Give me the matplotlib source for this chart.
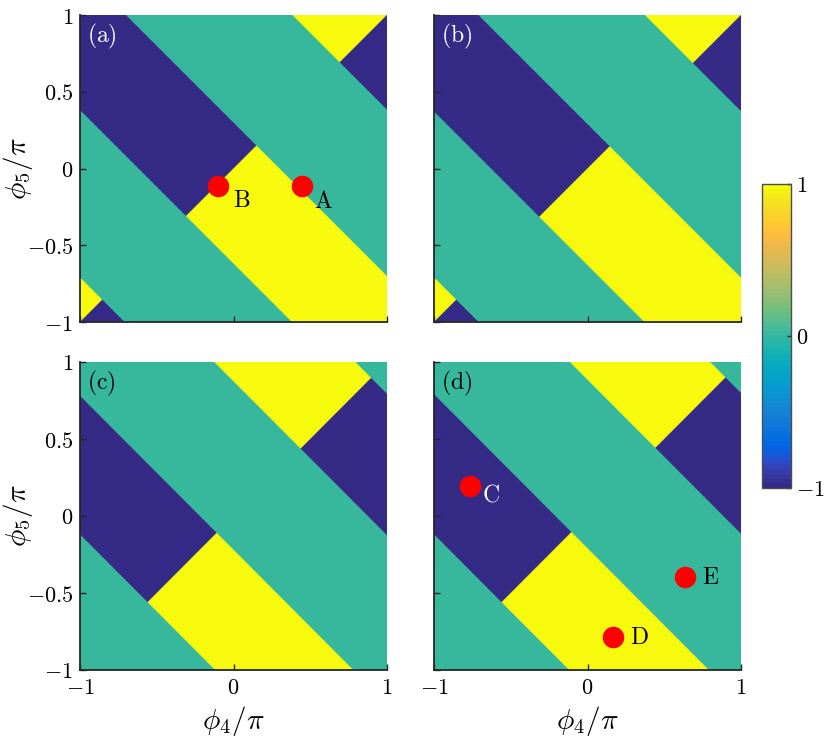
import numpy as np
import matplotlib
matplotlib.use("Agg")
import matplotlib.pyplot as plt
from matplotlib.colors import ListedColormap

plt.rcParams['mathtext.fontset'] = 'cm'
plt.rcParams['font.family'] = ['DejaVu Serif']

# ---------------- data ----------------
# Regions are bands along s = phi4/pi + phi5/pi; inside each band the value
# depends on which side of the diagonal phi5 = phi4 a point lies.
s_edges_a = [-2.0, -1.71, -0.62, 0.30, 1.385, 2.0]
upper_a = [1, 0, -1, 0, 1]      # phi5 > phi4
lower_a = [-1, 0, 1, 0, -1]     # phi5 < phi4

s_edges_b = [-2.0, -1.71, -0.63, 0.29, 1.375, 2.0]
upper_b = [1, 0, -1, 0, 1]
lower_b = [-1, 0, 1, 0, -1]

s_edges_c = [-2.0, -1.12, -0.22, 0.875, 1.795, 2.0]
upper_c = [0, -1, 0, 1, 0]
lower_c = [0, 1, 0, -1, 0]

s_edges_d = [-2.0, -1.12, -0.21, 0.885, 1.80, 2.0]
upper_d = [0, -1, 0, 1, 0]
lower_d = [0, 1, 0, -1, 0]

panel_labels = ['(a)', '(b)', '(c)', '(d)']

points_a_names = ['A', 'B']
points_a_x = [0.444, -0.099]
points_a_y = [-0.112, -0.112]

points_d_names = ['C', 'D', 'E']
points_d_x = [-0.767, 0.169, 0.637]
points_d_y = [0.196, -0.783, -0.398]

y_ticks = [-1, -0.5, 0, 0.5, 1]
x_ticks = [-1, 0, 1]
cbar_ticks = [-1, 0, 1]

# MATLAB parula (64 entries)
parula_data = [
    [0.2081, 0.1663, 0.5292], [0.2116, 0.1898, 0.5777], [0.2123, 0.2138, 0.6270], [0.2081, 0.2386, 0.6771],
    [0.1959, 0.2645, 0.7279], [0.1707, 0.2919, 0.7792], [0.1253, 0.3242, 0.8303], [0.0591, 0.3598, 0.8683],
    [0.0117, 0.3875, 0.8820], [0.0060, 0.4086, 0.8828], [0.0165, 0.4266, 0.8786], [0.0329, 0.4430, 0.8720],
    [0.0498, 0.4586, 0.8641], [0.0629, 0.4737, 0.8554], [0.0723, 0.4887, 0.8467], [0.0779, 0.5040, 0.8384],
    [0.0793, 0.5200, 0.8312], [0.0749, 0.5375, 0.8263], [0.0641, 0.5570, 0.8240], [0.0488, 0.5772, 0.8228],
    [0.0343, 0.5966, 0.8199], [0.0265, 0.6137, 0.8135], [0.0239, 0.6287, 0.8038], [0.0231, 0.6418, 0.7913],
    [0.0228, 0.6535, 0.7768], [0.0267, 0.6642, 0.7607], [0.0384, 0.6743, 0.7436], [0.0590, 0.6838, 0.7254],
    [0.0843, 0.6928, 0.7062], [0.1133, 0.7015, 0.6859], [0.1453, 0.7098, 0.6646], [0.1801, 0.7177, 0.6424],
    [0.2178, 0.7250, 0.6193], [0.2586, 0.7317, 0.5954], [0.3022, 0.7376, 0.5712], [0.3482, 0.7424, 0.5473],
    [0.3953, 0.7459, 0.5244], [0.4420, 0.7481, 0.5033], [0.4871, 0.7491, 0.4840], [0.5300, 0.7491, 0.4661],
    [0.5709, 0.7485, 0.4494], [0.6099, 0.7473, 0.4337], [0.6473, 0.7456, 0.4188], [0.6834, 0.7435, 0.4044],
    [0.7184, 0.7411, 0.3905], [0.7525, 0.7384, 0.3768], [0.7858, 0.7356, 0.3633], [0.8185, 0.7327, 0.3498],
    [0.8507, 0.7299, 0.3360], [0.8824, 0.7274, 0.3217], [0.9139, 0.7258, 0.3063], [0.9450, 0.7261, 0.2886],
    [0.9739, 0.7314, 0.2666], [0.9938, 0.7455, 0.2403], [0.9990, 0.7653, 0.2164], [0.9955, 0.7861, 0.1967],
    [0.9880, 0.8066, 0.1794], [0.9789, 0.8271, 0.1633], [0.9697, 0.8481, 0.1475], [0.9626, 0.8705, 0.1309],
    [0.9589, 0.8949, 0.1132], [0.9598, 0.9218, 0.0948], [0.9661, 0.9514, 0.0755], [0.9763, 0.9831, 0.0538]]
parula = ListedColormap(parula_data, name='parula')


def region_map(s_edges, upper, lower, n=1400):
    g = np.linspace(-1, 1, n)
    X, Y = np.meshgrid(g, g)
    S = X + Y
    idx = np.clip(np.searchsorted(s_edges, S, side='right') - 1, 0, len(upper) - 1)
    up = np.asarray(upper)[idx]
    lo = np.asarray(lower)[idx]
    return np.where(Y > X, up, lo)


W, H = 830, 746
fig = plt.figure(figsize=(W / 100, H / 100), dpi=100)

boxes = [(80, 15, 387, 322), (434, 15, 741, 322), (80, 362, 387, 670), (434, 362, 741, 670)]
axes = []
for (x0, y0, x1, y1) in boxes:
    axes.append(fig.add_axes([x0 / W, 1 - y1 / H, (x1 - x0) / W, (y1 - y0) / H]))

maps = [region_map(s_edges_a, upper_a, lower_a), region_map(s_edges_b, upper_b, lower_b),
        region_map(s_edges_c, upper_c, lower_c), region_map(s_edges_d, upper_d, lower_d)]

spine_col = (0.15, 0.15, 0.15)
tick_fs = 16
label_fs = 21
panel_fs = 17
point_fs = 17


def fmt(v):
    if v == int(v):
        return r'$%d$' % int(v)
    return r'$%g$' % v


im = None
for i, ax in enumerate(axes):
    im = ax.imshow(maps[i], extent=[-1, 1, -1, 1], origin='lower', cmap=parula,
                   vmin=-1, vmax=1, interpolation='antialiased',
                   interpolation_stage='rgba', aspect='auto')
    ax.set_xlim(-1, 1)
    ax.set_ylim(-1, 1)
    for sp in ['top', 'right']:
        ax.spines[sp].set_visible(False)
    for sp in ['left', 'bottom']:
        ax.spines[sp].set_color(spine_col)
        ax.spines[sp].set_linewidth(1.3)
        ax.spines[sp].set_zorder(5)
    ax.set_xticks(x_ticks)
    ax.set_yticks(y_ticks)
    ax.tick_params(direction='in', length=4, width=1.0, color=spine_col,
                   labelsize=tick_fs, pad=5)
    if i in (0, 2):
        ax.set_yticklabels([fmt(v) for v in y_ticks])
        ax.set_ylabel(r'$\phi_5/\pi$', fontsize=label_fs)
        ax.yaxis.set_label_coords(-0.145, 0.5)
    else:
        ax.set_yticklabels([])
    if i in (2, 3):
        ax.set_xticklabels([fmt(v) for v in x_ticks])
        ax.set_xlabel(r'$\phi_4/\pi$', fontsize=label_fs)
        ax.xaxis.set_label_coords(0.5, -0.11)
    else:
        ax.set_xticklabels([])
    col = 'white' if i < 2 else 'black'
    ax.text(0.022, 0.978, r'$\mathrm{%s}$' % panel_labels[i], transform=ax.transAxes,
            ha='left', va='top', fontsize=panel_fs, color=col, zorder=6)

# markers
label_offsets_a = [(15.5, -11.5), (16.5, -10.5)]
for name, x, y, off in zip(points_a_names, points_a_x, points_a_y, label_offsets_a):
    axes[0].plot(x, y, 'o', color='red', markersize=14.5, zorder=7)
    axes[0].annotate(r'$\mathrm{%s}$' % name, (x, y), xytext=off, textcoords='offset points',
                     ha='center', va='center', fontsize=point_fs, color='black', zorder=8)

label_offsets_d = [(15.5, -6.5), (19.0, -1.0), (18.0, 0.0)]
label_cols_d = ['white', 'black', 'black']
for name, x, y, off, c in zip(points_d_names, points_d_x, points_d_y, label_offsets_d, label_cols_d):
    axes[3].plot(x, y, 'o', color='red', markersize=14.5, zorder=7)
    axes[3].annotate(r'$\mathrm{%s}$' % name, (x, y), xytext=off, textcoords='offset points',
                     ha='center', va='center', fontsize=point_fs, color=c, zorder=8)

# colorbar
cax = fig.add_axes([762 / W, 1 - 488 / H, 28.5 / W, 304 / H])
cb = fig.colorbar(im, cax=cax, ticks=cbar_ticks)
cb.ax.set_yticklabels([fmt(v) for v in cbar_ticks])
cb.ax.tick_params(direction='in', length=3, width=1.0, color=spine_col, labelsize=tick_fs, pad=4)
cb.outline.set_edgecolor((0.3, 0.3, 0.3))
cb.outline.set_linewidth(1.0)

fig.savefig('out.png', dpi=100)
